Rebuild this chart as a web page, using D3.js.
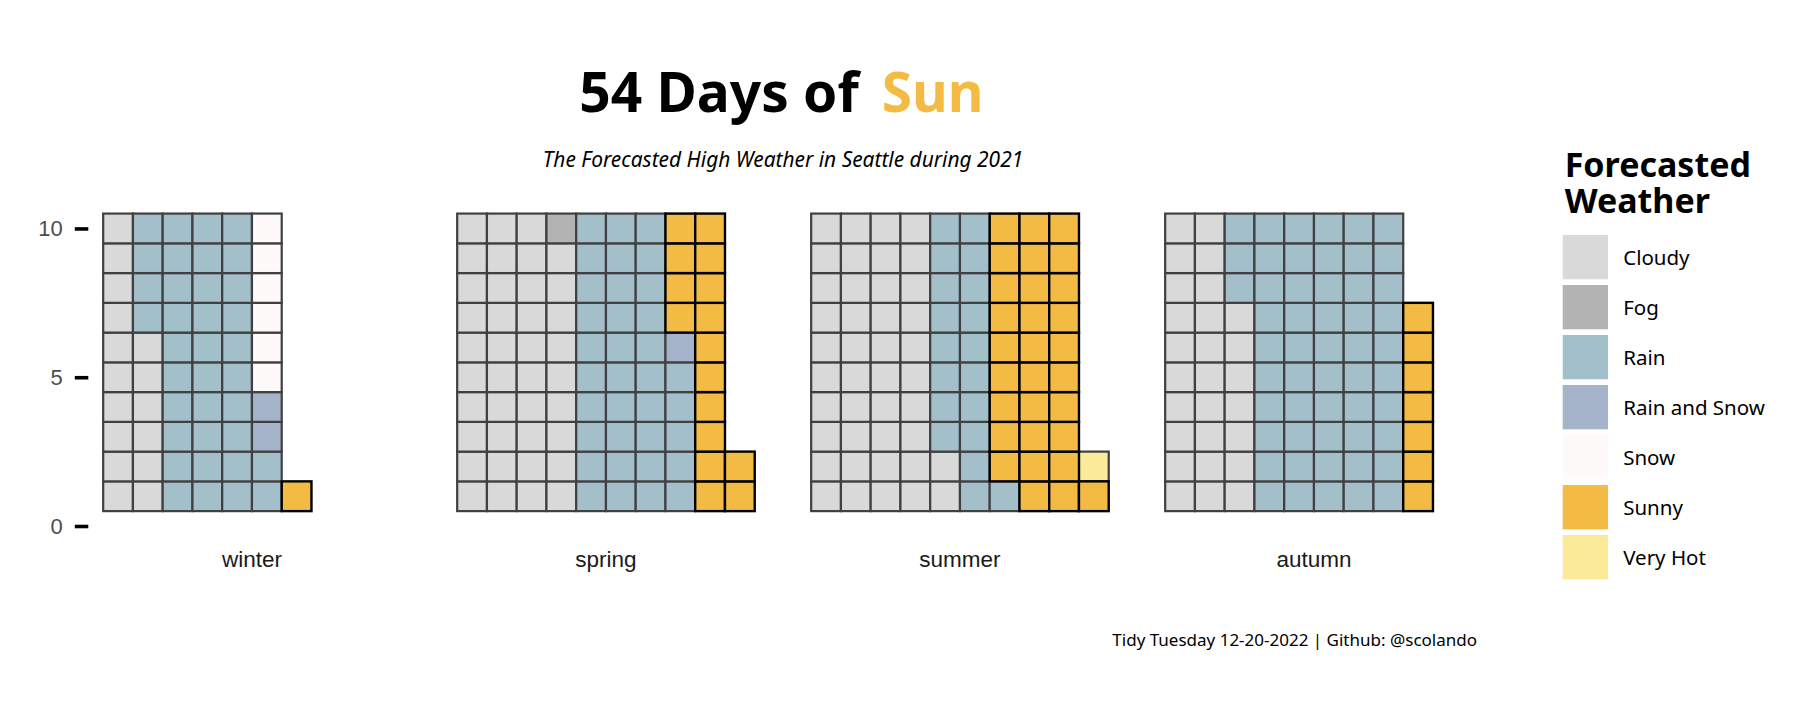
<!DOCTYPE html>
<html>
<head>
<meta charset="utf-8">
<script src="https://cdn.jsdelivr.net/npm/d3@7"></script>
<style>
  body { margin: 0; background: #fff; }
  svg { display: block; }
</style>
</head>
<body>
<div id="chart"></div>
<script>
const width = 1800, height = 706;

// weather categories in fill order, with their colours
const weather = ['Cloudy', 'Fog', 'Rain', 'Rain and Snow', 'Snow', 'Sunny', 'Very Hot'];
const colors = ['#D9D9D9', '#B3B3B3', '#A2BFCA', '#A4B3CA', '#FFFAFA', '#F4BB44', '#FBEB99'];

// days per weather type for each season (same order as `weather`)
const seasons = ['winter', 'spring', 'summer', 'autumn'];
const winterDays = [16, 0, 36, 2, 6, 1, 0];
const springDays = [39, 1, 35, 1, 0, 16, 0];
const summerDays = [42, 0, 19, 0, 0, 30, 1];
const autumnDays = [27, 0, 53, 0, 0, 7, 0];
const counts = [winterDays, springDays, summerDays, autumnDays];

const yTicks = [0, 5, 10];
const nRows = 10;

// build the tiles: column-major, bottom to top
const tiles = [];
seasons.forEach((s, si) => {
  let k = 0;
  weather.forEach((w, wi) => {
    for (let n = 0; n < counts[si][wi]; n++) {
      tiles.push({ season: s, weather: w, col: Math.floor(k / nRows) + 1, row: (k % nRows) + 1 });
      k++;
    }
  });
});

const svg = d3.select('#chart').append('svg')
  .attr('width', width).attr('height', height);

const facet = d3.scaleBand().domain(seasons).range([88.3, 1477.6]).paddingInner(0.0754);
const x = d3.scaleLinear().domain([0, 11]).range([0, facet.bandwidth()]);
const y = d3.scaleLinear().domain([0, 11]).range([526, 526 - facet.bandwidth()]);
const color = d3.scaleOrdinal().domain(weather).range(colors);

// tiles: everything else first, sunny on top so the black outline shows
const order = d => d.weather === 'Sunny' ? 1 : 0;
const sorted = tiles.slice().sort((a, b) => order(a) - order(b));

svg.append('g').selectAll('rect')
  .data(sorted)
  .join('rect')
  .attr('x', d => facet(d.season) + x(d.col - 0.5))
  .attr('y', d => y(d.row + 0.5))
  .attr('width', x(1) - x(0))
  .attr('height', y(0) - y(1))
  .attr('fill', d => color(d.weather))
  .attr('stroke', d => d.weather === 'Sunny' ? '#000' : '#404040')
  .attr('stroke-width', d => d.weather === 'Sunny' ? 2.4 : 2.2);

// y axis on the first panel only
const yAxis = svg.append('g')
  .attr('transform', `translate(${facet(seasons[0])},0)`)
  .call(d3.axisLeft(y).tickValues(yTicks).tickSize(13.5).tickPadding(12));
yAxis.select('.domain').remove();
yAxis.selectAll('line').attr('stroke', '#000').attr('stroke-width', 3.6);
yAxis.selectAll('text')
  .attr('fill', '#4D4D4D')
  .style('font-family', '"Liberation Sans", Arial, sans-serif')
  .style('font-size', '22px');

// facet labels underneath
svg.append('g').selectAll('text')
  .data(seasons)
  .join('text')
  .attr('x', d => facet(d) + facet.bandwidth() / 2)
  .attr('y', 566.5)
  .attr('text-anchor', 'middle')
  .attr('fill', '#1A1A1A')
  .style('font-family', '"Liberation Sans", Arial, sans-serif')
  .style('font-size', '22.5px')
  .text(d => d);

// title
const title = svg.append('text')
  .attr('y', 111.7)
  .style('font-family', '"Noto Sans", sans-serif')
  .style('font-weight', 700)
  .style('font-size', '55px');
title.append('tspan').attr('x', 579.3).attr('fill', '#000').text('54 Days of');
title.append('tspan').attr('x', 881.7).attr('fill', '#F4BB44').text('Sun');

svg.append('text')
  .attr('x', 783).attr('y', 166.7)
  .attr('text-anchor', 'middle')
  .style('font-family', '"Noto Sans", sans-serif')
  .style('font-style', 'italic')
  .style('font-size', '20.9px')
  .text('The Forecasted High Weather in Seattle during 2021');

// caption
svg.append('text')
  .attr('x', 1477).attr('y', 645.7)
  .attr('text-anchor', 'end')
  .style('font-family', '"Noto Sans", sans-serif')
  .style('font-size', '17px')
  .text('Tidy Tuesday 12-20-2022 | Github: @scolando');

// legend
const legend = svg.append('g').attr('transform', 'translate(1562.7,0)');
legend.selectAll('text.legend-title')
  .data(['Forecasted', 'Weather'])
  .join('text')
  .attr('class', 'legend-title')
  .attr('x', 2)
  .attr('y', (d, i) => 176.7 + i * 36.6)
  .style('font-family', '"Noto Sans", sans-serif')
  .style('font-weight', 700)
  .style('font-size', '34px')
  .text(d => d);

const item = legend.selectAll('g.item')
  .data(weather)
  .join('g')
  .attr('class', 'item')
  .attr('transform', (d, i) => `translate(0,${235 + i * 50})`);
item.append('rect')
  .attr('width', 45.3).attr('height', 44.3)
  .attr('fill', d => color(d));
item.append('text')
  .attr('x', 60.5).attr('y', 30)
  .style('font-family', '"Noto Sans", sans-serif')
  .style('font-size', '20.5px')
  .text(d => d);
</script>
</body>
</html>
